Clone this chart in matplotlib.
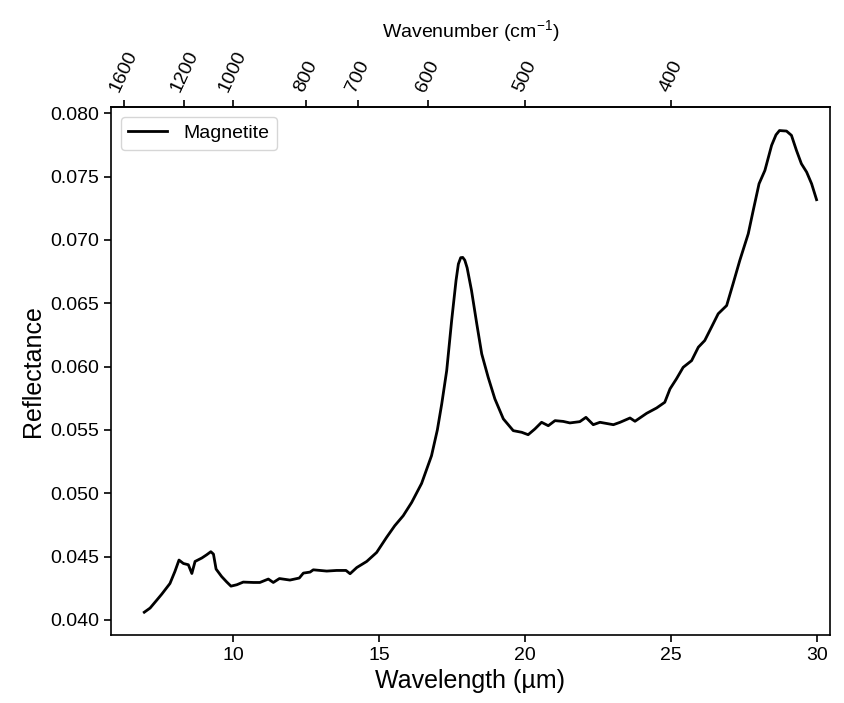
import numpy as np
import matplotlib
matplotlib.use("Agg")
import matplotlib.pyplot as plt

plt.rcParams["font.family"] = ["Liberation Sans", "DejaVu Sans"]
plt.rcParams["mathtext.default"] = "regular"

# ============ Data ============

wavelength_um = [
    6.96, 7.16, 7.39, 7.56, 7.84, 8.01, 8.15, 8.30, 8.47, 8.59,
    8.70, 8.93, 9.10, 9.24, 9.33, 9.42, 9.61, 9.78, 9.93, 10.13,
    10.35, 10.70, 10.92, 11.21, 11.38, 11.59, 11.95, 12.27, 12.41, 12.64,
    12.75, 13.21, 13.55, 13.87, 14.01, 14.24, 14.58, 14.92, 15.26, 15.54,
    15.83, 16.12, 16.46, 16.80, 17.00, 17.15, 17.32, 17.49, 17.64, 17.72,
    17.80, 17.87, 17.94, 18.02, 18.17, 18.35, 18.52, 18.74, 18.97, 19.26,
    19.60, 19.89, 20.11, 20.34, 20.57, 20.80, 21.03, 21.31, 21.54, 21.88,
    22.09, 22.34, 22.57, 23.03, 23.26, 23.60, 23.77, 24.17, 24.51, 24.79,
    24.97, 25.19, 25.42, 25.71, 25.94, 26.16, 26.39, 26.62, 26.91, 27.13,
    27.36, 27.65, 27.82, 28.02, 28.22, 28.45, 28.60, 28.72, 28.96, 29.13,
    29.30, 29.47, 29.65, 29.82, 29.99,
]

reflectance = [
    0.04060, 0.04093, 0.04156, 0.04203, 0.04287, 0.04382, 0.04472, 0.04445, 0.04435, 0.04366,
    0.04461, 0.04488, 0.04514, 0.04538, 0.04519, 0.04401, 0.04342, 0.04300, 0.04266, 0.04277,
    0.04298, 0.04295, 0.04295, 0.04322, 0.04295, 0.04326, 0.04314, 0.04330, 0.04369, 0.04377,
    0.04395, 0.04385, 0.04390, 0.04390, 0.04364, 0.04413, 0.04461, 0.04532, 0.04651, 0.04743,
    0.04822, 0.04927, 0.05077, 0.05296, 0.05500, 0.05705, 0.05968, 0.06364, 0.06680, 0.06810,
    0.06860, 0.06862, 0.06840, 0.06780, 0.06601, 0.06338, 0.06100, 0.05916, 0.05745, 0.05587,
    0.05494, 0.05481, 0.05462, 0.05507, 0.05560, 0.05533, 0.05573, 0.05567, 0.05555, 0.05565,
    0.05599, 0.05541, 0.05560, 0.05541, 0.05560, 0.05594, 0.05568, 0.05631, 0.05673, 0.05718,
    0.05824, 0.05903, 0.05994, 0.06047, 0.06153, 0.06206, 0.06311, 0.06417, 0.06482, 0.06654,
    0.06838, 0.07049, 0.07233, 0.07444, 0.07549, 0.07747, 0.07830, 0.07864, 0.07860, 0.07826,
    0.07708, 0.07602, 0.07536, 0.07444, 0.07318,
]

wavenumber_ticks = [1600, 1200, 1000, 800, 700, 600, 500, 400]


# ============ Utils ============

def _um_to_cm1(x):
    x = np.asarray(x, dtype=float)
    with np.errstate(divide="ignore", invalid="ignore"):
        return 1e4 / x


# ============ Plot ============

fig = plt.figure(figsize=(8.44, 7.03), dpi=100)
ax = fig.add_axes([0.1315, 0.0967, 0.8519, 0.7511])

ax.plot(wavelength_um, reflectance, color="black", linewidth=2.0, label="Magnetite")

ax.set_xlim(5.82, 30.45)
ax.set_ylim(0.0388, 0.0805)
ax.set_xticks([10, 15, 20, 25, 30])
ax.set_yticks(np.arange(0.040, 0.0801, 0.005))
ax.yaxis.set_major_formatter(plt.FormatStrFormatter("%.3f"))

ax.set_xlabel("Wavelength (µm)", fontsize=18)
ax.set_ylabel("Reflectance", fontsize=18)
ax.tick_params(axis="both", labelsize=14, width=1.2, length=5)
for sp in ax.spines.values():
    sp.set_linewidth(1.2)

# axe du haut en nombre d'onde
top = ax.secondary_xaxis("top", functions=(_um_to_cm1, _um_to_cm1))
top.set_xticks(wavenumber_ticks)
top.set_xticklabels([str(v) for v in wavenumber_ticks], rotation=65, fontsize=14)
top.tick_params(width=1.2, length=5, pad=4)
top.spines["top"].set_linewidth(1.2)
top.set_xlabel("Wavenumber (cm$^{-1}$)", fontsize=14, labelpad=8)

ax.legend(loc="upper left", fontsize=14, frameon=True, handlelength=2.0)

fig.savefig("out.png", dpi=100)
